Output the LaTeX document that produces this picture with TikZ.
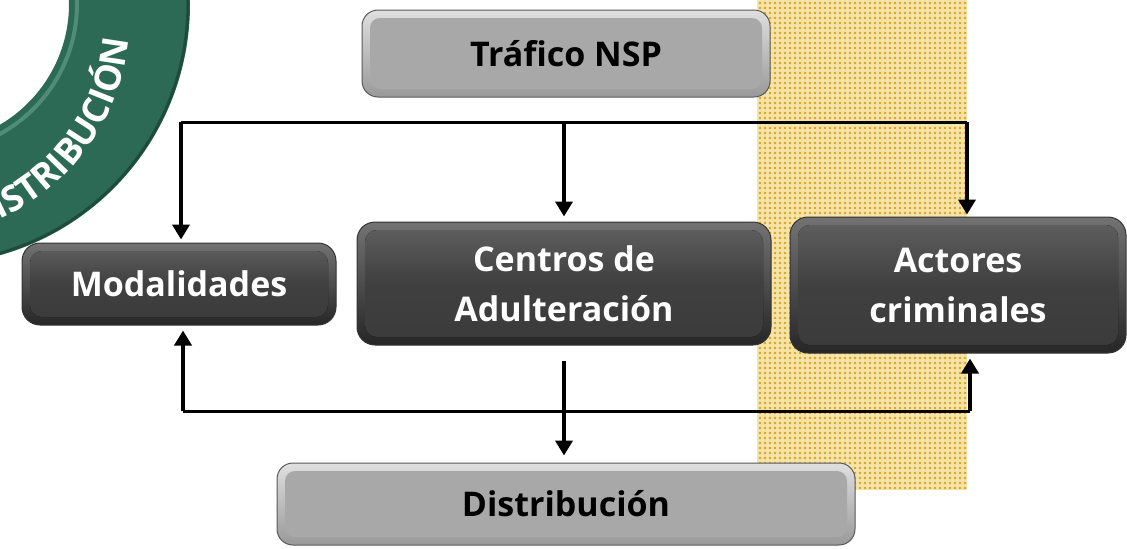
\documentclass[tikz,border=0pt]{standalone}
\usepackage{fontspec}
\setmainfont{Open Sans}
\usetikzlibrary{arrows.meta,patterns.meta,decorations.text}
\definecolor{verde}{HTML}{2D6A56}
\definecolor{verdeluz}{HTML}{5E9C85}
\definecolor{verdeosc}{HTML}{1E4B3D}
\definecolor{franja}{HTML}{F5E3A8}
\definecolor{puntos}{HTML}{D9A521}
\newcommand{\etiq}{\bfseries\fontsize{17}{25}\selectfont}

\begin{document}
\begin{tikzpicture}[x=0.5pt, y=-0.5pt,
  flecha/.style = {line width=2pt, -{Triangle[length=7.5pt,width=8.5pt]}},
  linea/.style = {line width=1.5pt},
  gris/.style = {rounded corners=8pt, draw=gray!70!black, line width=0.5pt,
    top color=gray!25, bottom color=gray!80, text=black, font=\etiq, align=center, inner sep=0pt,
    path picture={\fill[gray!68, rounded corners=5pt]
      ([shift={(4pt,4pt)}]path picture bounding box.south west) rectangle
      ([shift={(-4pt,-4pt)}]path picture bounding box.north east);}},
  oscuro/.style = {rounded corners=9pt, draw=black!80, line width=0.5pt,
    top color=black!55, bottom color=black!85, text=white, font=\etiq, align=center, inner sep=0pt,
    path picture={\fill[top color=black!62, bottom color=black!77, middle color=black!75, rounded corners=6pt]
      ([shift={(4pt,4pt)}]path picture bounding box.south west) rectangle
      ([shift={(-4pt,-4pt)}]path picture bounding box.north east);}}]
\useasboundingbox (0,0) rectangle (1127,548);
\clip (0,0) rectangle (1127,548);

% arco verde
\fill[verde, even odd rule] (-71,4) circle (130.5pt) (-71,4) circle (70pt);
\draw[verdeluz, line width=2pt, opacity=0.7] (-71,4) circle (74pt);
\draw[verdeosc, line width=1.5pt] (-71,4) circle (129.5pt);
\begin{scope}[x=1pt, y=1pt, shift={(-45pt,-10pt)}]
\path[decorate, decoration={text along path, text align=right,
  text={|\color{white}\bfseries\fontsize{18}{18}\selectfont|DISTRIBUCIÓN}}]
  (-120:109.5pt) arc[start angle=-120, end angle=-5, radius=109.5pt];
\end{scope}

% franja punteada
\fill[franja] (757,0) rectangle (967,490);
\fill[pattern={Dots[distance=2.5pt, radius=0.65pt]}, pattern color=puntos] (757,0) rectangle (967,490);

\node[gris, minimum width=204pt, minimum height=43.5pt] (traf) at (566,53.5) {Tráfico NSP};
\node[oscuro, minimum width=157pt, minimum height=41pt] (modal) at (179,284) {Modalidades};
\node[oscuro, minimum width=207pt, minimum height=61.5pt] (centros) at (564,283.5) {Centros de\\Adulteración};
\node[oscuro, minimum width=168pt, minimum height=68pt] (actores) at (958,285) {Actores\\criminales};
\node[gris, minimum width=289pt, minimum height=41pt] (distrib) at (566,504) {Distribución};

\coordinate (tl) at (181,122);
\coordinate (tr) at (967,122);
\coordinate (bl) at (183,411);
\coordinate (br) at (970,411);

\draw[linea] (tl) -- (tr);
\draw[flecha] (tl) -- ([yshift=1.5pt]modal.north -| tl);
\draw[flecha] (centros.north |- tl) -- ([yshift=2.5pt]centros.north);
\draw[flecha] (tr) -- ([yshift=1pt]actores.north -| tr);

\draw[linea] (bl) -- (br);
\draw[flecha] (bl) -- ([yshift=-2.5pt]modal.south -| bl);
\draw[flecha] (br) -- ([yshift=-2.5pt]actores.south -| br);
\draw[flecha] ([yshift=-7.5pt]centros.south) -- ([yshift=3.5pt]centros.south |- distrib.north);
\end{tikzpicture}
\end{document}
